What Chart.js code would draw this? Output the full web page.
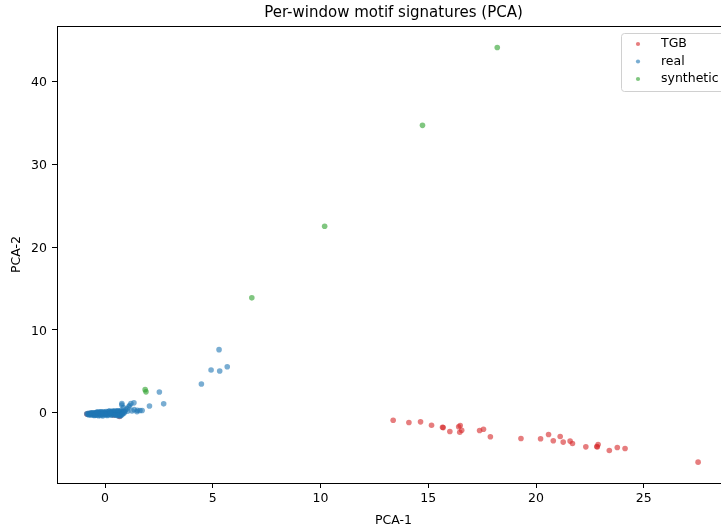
<!DOCTYPE html>
<html>
<head>
<meta charset="utf-8">
<script src="https://cdn.jsdelivr.net/npm/chart.js@4.4.0/dist/chart.umd.min.js"></script>
<style>
  html, body { margin: 0; padding: 0; overflow: hidden; background: #fff; }
  canvas { display: block; }
</style>
</head>
<body>
<canvas id="myChart" width="740" height="529"></canvas>
<script>
// values
const seriesNames = ['TGB', 'real', 'synthetic'];

const tgbX = [13.37, 14.10, 14.64, 15.15, 15.66, 15.69, 16.00, 16.41, 16.48, 16.46, 16.55, 17.38, 17.56, 17.88,
  19.30, 20.21, 20.58, 20.80, 21.12, 21.26, 21.58, 21.69, 22.31, 22.82, 22.84, 22.88, 23.40, 23.77, 24.13, 27.52,
  -0.84, -0.70, 0.67, 0.40];
const tgbY = [-0.93, -1.20, -1.12, -1.53, -1.77, -1.82, -2.29, -1.72, -1.57, -2.37, -2.13, -2.17, -2.01, -2.93,
  -3.13, -3.17, -2.65, -3.41, -2.89, -3.57, -3.45, -3.73, -4.14, -4.10, -4.16, -3.86, -4.58, -4.22, -4.34, -5.99,
  -0.18, -0.12, -0.48, -0.30];

const realX = [5.29, 4.92, 5.32, 5.67, 4.47, 2.52, 2.72, 2.06, 1.72, 1.34, 1.14, 0.78, 1.20, 1.10, 1.35, 1.50, 1.25, 0.78, 0.85, 1.02,
  1.48, 1.62, 0.95, 1.05,
  -0.85, -0.80, -0.78, -0.72, -0.70, -0.66, -0.62, -0.60, -0.58, -0.55, -0.52, -0.50, -0.48, -0.45, -0.42, -0.40,
  -0.38, -0.35, -0.32, -0.30, -0.28, -0.25, -0.22, -0.20, -0.18, -0.15, -0.12, -0.10, -0.08, -0.05, -0.02, 0.00,
  0.03, 0.05, 0.08, 0.10, 0.12, 0.15, 0.18, 0.20, 0.22, 0.25, 0.28, 0.30, 0.33, 0.35, 0.38, 0.40, 0.42, 0.45,
  0.48, 0.50, 0.53, 0.55, 0.58, 0.60, 0.63, 0.65, 0.68, 0.70, 0.73, 0.75, 0.78, 0.80, 0.85, 0.90,
  -0.60, -0.40, -0.20, 0.00, 0.20, 0.40, 0.60, -0.50, -0.30, -0.10, 0.10, 0.30, 0.50, 0.70,
  -0.75, -0.65, -0.45, -0.35, -0.15, 0.05, 0.25, 0.45, 0.55, 0.65, 0.72, 0.82, 0.60, 0.70, 0.78, 0.88];
const realY = [7.60, 5.14, 5.02, 5.54, 3.45, 2.49, 1.05, 0.80, 0.24, 1.17, 0.84, 1.08, 1.09, 0.70, 0.35, 0.28, 0.20, 0.92, 0.60, 0.45,
  0.10, 0.25, 0.30, 0.15,
  -0.15, -0.20, -0.10, -0.22, -0.08, -0.25, -0.12, -0.28, -0.05, -0.20, -0.10, -0.30, -0.02, -0.18, -0.08, -0.32,
  0.00, -0.15, -0.28, -0.02, 0.05, -0.22, -0.10, -0.35, 0.06, -0.08, -0.25, 0.00, 0.10, -0.18, 0.02, -0.30,
  -0.05, 0.12, -0.22, 0.06, -0.10, -0.30, 0.15, -0.05, -0.18, 0.08, 0.00, -0.25, 0.18, -0.10, 0.10, -0.20, 0.04, 0.20,
  -0.06, -0.15, 0.12, 0.00, 0.22, -0.08, 0.06, -0.18, 0.16, -0.02, 0.10, 0.26, -0.10, 0.04, 0.12, 0.08,
  -0.02, 0.02, 0.08, -0.12, 0.18, 0.12, 0.18, -0.35, -0.38, -0.40, -0.36, -0.32, -0.28, -0.25,
  -0.30, -0.05, -0.25, 0.05, -0.15, -0.20, -0.12, -0.32, -0.30, -0.28, -0.35, -0.15, -0.40, -0.42, -0.25, -0.05];

const synthX = [1.86, 1.90, 6.81, 10.19, 14.73, 18.20];
const synthY = [2.77, 2.50, 13.86, 22.50, 34.70, 44.10];

const xTicks = [0, 5, 10, 15, 20, 25];
const yTicks = [0, 10, 20, 30, 40];

const colors = ['rgba(214,39,40,0.6)', 'rgba(31,119,180,0.6)', 'rgba(44,160,44,0.6)'];
const font = 'DejaVu Sans';

function points(xs, ys) {
  return xs.map((x, i) => ({ x: x, y: ys[i] }));
}

// full frame (matplotlib draws all four spines)
const frame = {
  id: 'frame',
  afterDatasetsDraw(chart) {
    const { ctx, chartArea } = chart;
    ctx.save();
    ctx.strokeStyle = '#000';
    ctx.lineWidth = 1;
    ctx.strokeRect(chartArea.left + 0.5, chartArea.top + 0.5,
      chartArea.right - chartArea.left, chartArea.bottom - chartArea.top);
    ctx.restore();
  }
};

// boxed legend inside the axes, top right
const legendBox = {
  id: 'legendBox',
  afterDraw(chart) {
    const { ctx, chartArea } = chart;
    const w = 103, h = 58;
    const left = chartArea.right - 6 - w;
    const top = chartArea.top + 7;
    ctx.save();
    ctx.beginPath();
    ctx.roundRect(left + 0.5, top + 0.5, w, h, 3);
    ctx.fillStyle = 'rgba(255,255,255,0.8)';
    ctx.fill();
    ctx.strokeStyle = '#d0d0d0';
    ctx.lineWidth = 1;
    ctx.stroke();
    ctx.font = '12.5px "' + font + '"';
    ctx.textBaseline = 'middle';
    chart.data.datasets.forEach((ds, i) => {
      const y = top + 11 + i * 17.5;
      ctx.beginPath();
      ctx.arc(left + 17, y, 2.1, 0, Math.PI * 2);
      ctx.fillStyle = ds.backgroundColor;
      ctx.fill();
      ctx.fillStyle = '#000';
      ctx.fillText(ds.label, left + 40, y);
    });
    ctx.restore();
  }
};

const datasets = [
  { label: seriesNames[0], data: points(tgbX, tgbY), order: 3 },
  { label: seriesNames[1], data: points(realX, realY), order: 2 },
  { label: seriesNames[2], data: points(synthX, synthY), order: 1 },
].map((ds, i) => Object.assign(ds, {
  backgroundColor: colors[i],
  borderWidth: 0,
  pointRadius: 2.8,
  pointHoverRadius: 2.8,
}));

new Chart(document.getElementById('myChart'), {
  type: 'scatter',
  data: { datasets: datasets },
  plugins: [frame, legendBox],
  options: {
    responsive: false,
    animation: false,
    devicePixelRatio: 1,
    layout: { padding: { left: 0, right: 10, top: 0, bottom: 0 } },
    plugins: {
      legend: { display: false },
      tooltip: { enabled: false },
      title: {
        display: true,
        text: 'Per-window motif signatures (PCA)',
        fullSize: false,
        color: '#000',
        font: { family: font, size: 15, weight: 'normal' },
        padding: { top: 4, bottom: 4 },
      },
    },
    scales: {
      x: {
        type: 'linear',
        min: -2.23,
        max: 29.0,
        afterFit(scale) { scale.height = 46; },
        afterBuildTicks(scale) { scale.ticks = xTicks.map(v => ({ value: v })); },
        grid: { drawOnChartArea: false, drawTicks: true, tickLength: 5, color: '#000' },
        border: { display: true, color: '#000', width: 1 },
        ticks: { color: '#000', padding: 3, font: { family: font, size: 12.5 } },
        title: {
          display: true, text: 'PCA-1', color: '#000',
          font: { family: font, size: 12.5 }, padding: { top: 0, bottom: 0.5 },
        },
      },
      y: {
        type: 'linear',
        min: -8.51,
        max: 46.7,
        afterFit(scale) { scale.width = 57; },
        afterBuildTicks(scale) { scale.ticks = yTicks.map(v => ({ value: v })); },
        grid: { drawOnChartArea: false, drawTicks: true, tickLength: 5, color: '#000' },
        border: { display: true, color: '#000', width: 1 },
        ticks: { color: '#000', padding: 5, labelOffset: 1.5, font: { family: font, size: 12.5 } },
        title: {
          display: true, text: 'PCA-2', color: '#000',
          font: { family: font, size: 12.5 }, padding: { top: 9, bottom: 0 },
        },
      },
    },
  },
});
</script>
</body>
</html>
